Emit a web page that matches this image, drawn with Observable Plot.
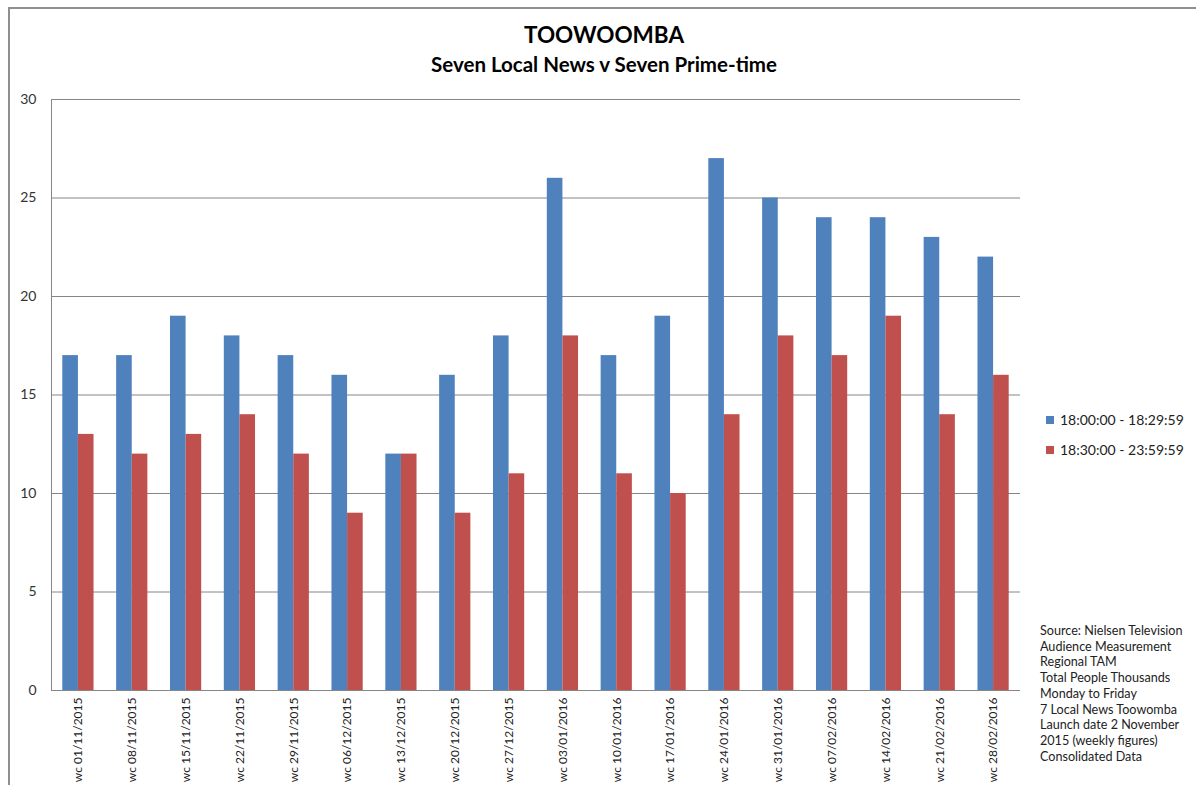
<!DOCTYPE html>
<html>
<head>
<meta charset="utf-8">
<script src="https://cdn.jsdelivr.net/npm/d3@7"></script>
<script src="https://cdn.jsdelivr.net/npm/@observablehq/plot@0.6"></script>
<style>
  body { margin: 0; background: #fff; font-family: Lato, "Open Sans", sans-serif; }
  #wrap { position: relative; width: 1196px; height: 785px; overflow: hidden; }
  #border { position: absolute; left: 8px; top: 7px; width: 1300px; height: 900px; border-left: 2px solid #8f8f8f; border-top: 2px solid #8f8f8f; box-sizing: border-box; }
  #chart { position: absolute; left: 0; top: 0; }
  #title { position: absolute; left: 0; width: 1208px; top: 21px; text-align: center; font-weight: bold; font-size: 22.5px; color: #000; }
  #subtitle { position: absolute; left: 0; width: 1208px; top: 52px; text-align: center; font-weight: bold; font-size: 20.5px; color: #000; }
  #legend { position: absolute; left: 1046px; top: 411px; font-size: 14px; color: #222; }
  #legend div { height: 30px; display: flex; align-items: flex-start; }
  #legend span.sw { display: inline-block; width: 8px; height: 8px; margin-right: 6px; margin-top: 5px; }
  #source { position: absolute; left: 1040px; top: 623px; font-size: 12.6px; line-height: 15.7px; color: #222; }
</style>
</head>
<body>
<div id="wrap">
  <div id="border"></div>
  <div id="chart"></div>
  <div id="title">TOOWOOMBA</div>
  <div id="subtitle">Seven Local News v Seven Prime-time</div>
  <div id="legend"></div>
  <div id="source"></div>
</div>
<script>
const weeks = ["wc 01/11/2015","wc 08/11/2015","wc 15/11/2015","wc 22/11/2015","wc 29/11/2015","wc 06/12/2015","wc 13/12/2015","wc 20/12/2015","wc 27/12/2015","wc 03/01/2016","wc 10/01/2016","wc 17/01/2016","wc 24/01/2016","wc 31/01/2016","wc 07/02/2016","wc 14/02/2016","wc 21/02/2016","wc 28/02/2016"];
const seriesNames = ["18:00:00 - 18:29:59", "18:30:00 - 23:59:59"];
const seriesColors = ["#4F81BD", "#C0504D"];
const newsValues = [17,17,19,18,17,16,12,16,18,26,17,19,27,25,24,24,23,22];
const primeValues = [13,12,13,14,12,9,12,9,11,18,11,10,14,18,17,19,14,16];
const yTicks = [0,5,10,15,20,25,30];
const sourceLines = ["Source:  Nielsen Television","Audience Measurement","Regional TAM","Total People Thousands","Monday to Friday","7 Local News Toowomba","Launch date 2 November","2015 (weekly figures)","Consolidated Data"];

const newsData = weeks.map((w, i) => ({week: w, value: newsValues[i]}));
const primeData = weeks.map((w, i) => ({week: w, value: primeValues[i]}));

function build(half) {
  return Plot.plot({
    width: 1196, height: 785,
    marginLeft: 51, marginRight: 176, marginTop: 99, marginBottom: 95,
    style: {fontFamily: "Lato, 'Open Sans', sans-serif", background: "transparent"},
    x: {domain: weeks, paddingInner: 0.42, paddingOuter: 0.21, round: false, label: null},
    y: {domain: [0, 30], ticks: yTicks, label: null},
    marks: [
      Plot.gridY(yTicks, {stroke: "#868686", strokeOpacity: 1, strokeWidth: 1}),
      Plot.barY(newsData, {x: "week", y: "value", fill: seriesColors[0], insetLeft: 0, insetRight: half}),
      Plot.barY(primeData, {x: "week", y: "value", fill: seriesColors[1], insetLeft: half, insetRight: 0}),
      Plot.axisY({ticks: yTicks, tickSize: 0, tickPadding: 15, fontSize: 14, fill: "#333", label: null}),
      Plot.axisX({tickRotate: -90, tickSize: 0, tickPadding: 7, fontSize: 12, fill: "#222", label: null})
    ]
  });
}
let plot = build(0);
const bw = plot.scale("x").bandwidth;
plot = build(bw / 2);
document.getElementById("chart").appendChild(plot);

// left axis line along the y axis
const xs = plot.scale("x"), ys = plot.scale("y");
d3.select(plot).append("line")
  .attr("x1", xs.range[0] + 0.5).attr("x2", xs.range[0] + 0.5)
  .attr("y1", ys.apply(30)).attr("y2", ys.apply(0))
  .attr("stroke", "#868686");

const leg = d3.select("#legend");
seriesNames.forEach((n, i) => {
  const row = leg.append("div");
  row.append("span").attr("class", "sw").style("background", seriesColors[i]);
  row.append("span").text(n);
});
d3.select("#source").selectAll("div").data(sourceLines).join("div").text(d => d);
</script>
</body>
</html>
